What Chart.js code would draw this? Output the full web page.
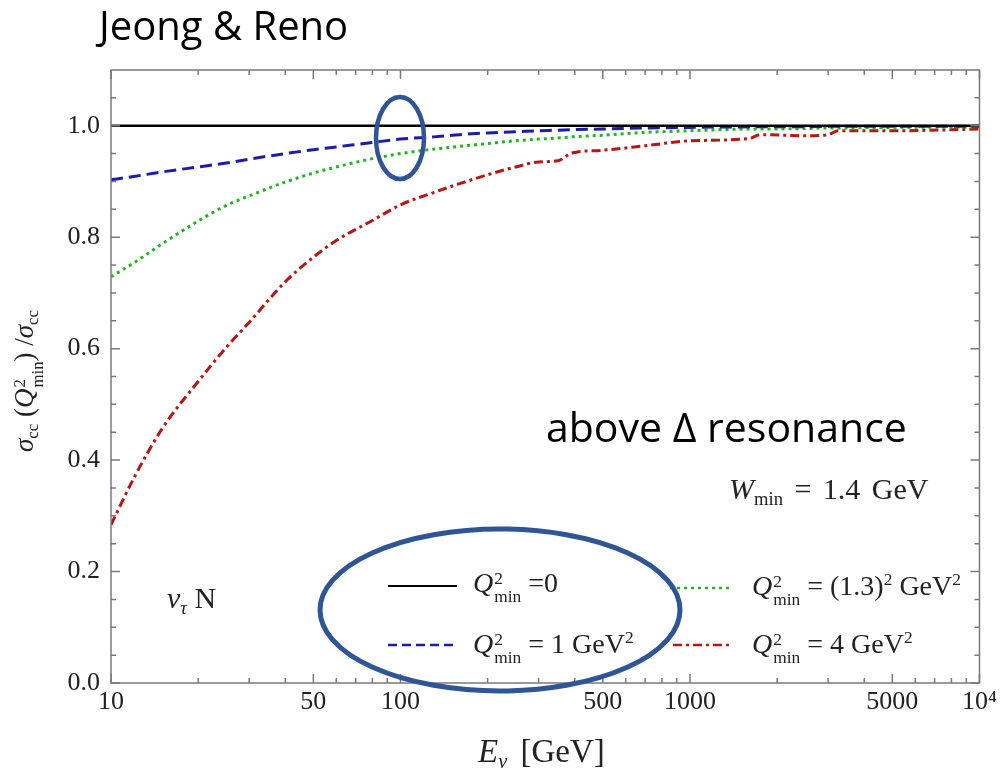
<!DOCTYPE html>
<html>
<head>
<meta charset="utf-8">
<script src="https://cdn.jsdelivr.net/npm/chart.js@4.4.0/dist/chart.umd.min.js"></script>
<style>
  body { margin: 0; background: #fff; }
  #wrap { position: relative; width: 1001px; height: 772px; overflow: hidden; }
  #plot { position: absolute; left: 0; top: 0; }
  #marks { position: absolute; left: 0; top: 0; pointer-events: none; }
  .txt { position: absolute; white-space: nowrap; line-height: 1; color: #222; font-family: "Liberation Serif", serif; }
  /* stacked super/subscript, e.g. Q^2_min */
  .ss { display: inline-flex; flex-direction: column; font-size: 0.62em; line-height: 1.05; position: relative; top: -0.48em; margin-left: 1px; }
  sub { font-size: 0.62em; vertical-align: -0.3em; }
  sup { font-size: 0.62em; }
</style>
</head>
<body>
<div id="wrap">
  <canvas id="plot" width="1001" height="772"></canvas>

  <!-- ellipses + legend samples -->
  <svg id="marks" width="1001" height="772">
    <line x1="388" y1="586" x2="457" y2="586" stroke="#000" stroke-width="2"/>
    <line x1="388" y1="645" x2="457" y2="645" stroke="#1c1caa" stroke-width="2.5" stroke-dasharray="9 5"/>
    <line x1="670" y1="588" x2="733" y2="588" stroke="#22b522" stroke-width="2.5" stroke-dasharray="3 4"/>
    <line x1="673" y1="645" x2="732" y2="645" stroke="#b51616" stroke-width="2.5" stroke-dasharray="9 4 3 4"/>
    <ellipse cx="500" cy="610" rx="180" ry="81" fill="none" stroke="#2f5597" stroke-width="5"/>
    <ellipse cx="400" cy="138" rx="24" ry="41" fill="none" stroke="#2f5597" stroke-width="4.5"/>
  </svg>

  <div class="txt" style="left:99px; top:5px; font-family:'Open Sans'; font-size:40px; color:#000;">Jeong &amp; Reno</div>
  <div class="txt" style="left:546px; top:406px; font-family:'Open Sans'; font-size:41px; color:#000;">above Δ resonance</div>
  <div class="txt" style="left:729px; top:474px; font-size:30px; word-spacing:4px;"><i>W</i><sub>min</sub> = 1.4 GeV</div>
  <div class="txt" style="left:167px; top:583px; font-size:30px;"><i>ν</i><sub><i>τ</i></sub> N</div>

  <div class="txt" style="left:473px; top:569px; font-size:28px;"><i>Q</i><span class="ss"><span>2</span><span>min</span></span> =0</div>
  <div class="txt" style="left:473px; top:629px; font-size:28px;"><i>Q</i><span class="ss"><span>2</span><span>min</span></span> = 1 GeV<sup>2</sup></div>
  <div class="txt" style="left:752px; top:571px; font-size:28px;"><i>Q</i><span class="ss"><span>2</span><span>min</span></span> = (1.3)<sup>2</sup> GeV<sup>2</sup></div>
  <div class="txt" style="left:752px; top:629px; font-size:28px;"><i>Q</i><span class="ss"><span>2</span><span>min</span></span> = 4 GeV<sup>2</sup></div>

  <div class="txt" style="left:478px; top:735px; font-size:33px; word-spacing:5px;"><i>E</i><sub><i>ν</i></sub> [GeV]</div>
  <div class="txt" style="left:33px; top:381px; font-size:27px; transform:translate(-50%,-50%) rotate(-90deg);"><i>σ</i><sub>cc</sub> (<i>Q</i><span class="ss"><span>2</span><span>min</span></span>) /<i>σ</i><sub>cc</sub></div>
</div>

<script>
// neutrino energy grid (GeV)
const energy = [10, 12, 15, 20, 25, 30, 40, 50, 60, 80, 100, 130, 160, 200, 250, 300,
  350, 390, 500, 700, 1000, 1600, 1750, 2500, 3000, 3250, 5000, 10000];

// Q2min = 0 reference line
const q0Energy = [10, 10000];
const q0Ratio = [1.0, 1.0];

// Q2min = 1 GeV^2
const q1Ratio = [0.903, 0.909, 0.917, 0.926, 0.933, 0.940, 0.950, 0.957, 0.962, 0.970, 0.976, 0.980,
  0.984, 0.987, 0.989, 0.991, 0.992, 0.993, 0.994, 0.996, 0.997, 0.998, 0.998, 0.998, 0.999, 0.999, 0.999, 0.999];

// Q2min = (1.3)^2 GeV^2
const q13Ratio = [0.729, 0.754, 0.788, 0.829, 0.857, 0.874, 0.899, 0.915, 0.926, 0.941, 0.950, 0.958,
  0.963, 0.968, 0.973, 0.976, 0.978, 0.980, 0.983, 0.988, 0.991, 0.994, 0.994, 0.995, 0.996, 0.996, 0.997, 0.998];

// Q2min = 4 GeV^2
const q4Ratio = [0.284, 0.368, 0.456, 0.541, 0.602, 0.647, 0.720, 0.764, 0.794, 0.830, 0.858, 0.880,
  0.896, 0.912, 0.926, 0.935, 0.937, 0.951, 0.956, 0.964, 0.973, 0.977, 0.984, 0.982, 0.984, 0.991, 0.991, 0.994];

// axis ticks
const xLabelTicks = [10, 50, 100, 500, 1000, 5000, 10000];
const xMinorTicks = [20, 30, 40, 60, 70, 80, 90, 200, 300, 400, 600, 700, 800, 900,
  2000, 3000, 4000, 6000, 7000, 8000, 9000];
const yLabelTicks = [0, 0.2, 0.4, 0.6, 0.8, 1.0];
const yMinorTicks = [0.05, 0.1, 0.15, 0.25, 0.3, 0.35, 0.45, 0.5, 0.55, 0.65, 0.7, 0.75,
  0.85, 0.9, 0.95, 1.05];

const toPoints = (xs, ys) => xs.map((x, i) => ({ x: x, y: ys[i] }));

// Mathematica-like frame with inward ticks on all four sides
const frameTicks = {
  id: 'frameTicks',
  afterDatasetsDraw(chart) {
    const { ctx, chartArea: a, scales: { x, y } } = chart;
    ctx.save();
    ctx.strokeStyle = '#7a7a7a';
    ctx.lineWidth = 1.5;
    ctx.strokeRect(a.left, a.top, a.right - a.left, a.bottom - a.top);
    ctx.beginPath();
    const xt = (v, len) => {
      const px = x.getPixelForValue(v);
      ctx.moveTo(px, a.bottom); ctx.lineTo(px, a.bottom - len);
      ctx.moveTo(px, a.top); ctx.lineTo(px, a.top + len);
    };
    const yt = (v, len) => {
      const py = y.getPixelForValue(v);
      ctx.moveTo(a.left, py); ctx.lineTo(a.left + len, py);
      ctx.moveTo(a.right, py); ctx.lineTo(a.right - len, py);
    };
    xLabelTicks.forEach(v => xt(v, 9));
    xMinorTicks.forEach(v => xt(v, 5));
    yLabelTicks.forEach(v => yt(v, 9));
    yMinorTicks.forEach(v => yt(v, 5));
    ctx.stroke();
    ctx.restore();
  }
};

const lineStyle = { showLine: true, pointRadius: 0, borderWidth: 3, fill: false, cubicInterpolationMode: 'monotone' };

new Chart(document.getElementById('plot'), {
  type: 'scatter',
  data: {
    datasets: [
      { ...lineStyle, label: 'Q2min = 0', data: toPoints(q0Energy, q0Ratio), borderColor: '#000', borderWidth: 2.5 },
      { ...lineStyle, label: 'Q2min = 1 GeV2', data: toPoints(energy, q1Ratio), borderColor: '#1c1caa', borderDash: [12, 6] },
      { ...lineStyle, label: 'Q2min = (1.3)2 GeV2', data: toPoints(energy, q13Ratio), borderColor: '#22b522', borderDash: [3, 4] },
      { ...lineStyle, label: 'Q2min = 4 GeV2', data: toPoints(energy, q4Ratio), borderColor: '#b51616', borderDash: [9, 4, 3, 4] }
    ]
  },
  options: {
    responsive: false,
    devicePixelRatio: 1,
    animation: false,
    layout: { padding: { top: 70, right: 20, left: 0, bottom: 0 } },
    plugins: { legend: { display: false }, tooltip: { enabled: false } },
    scales: {
      x: {
        type: 'logarithmic',
        min: 10,
        max: 10000,
        grid: { display: false, drawTicks: false },
        border: { display: false },
        afterFit: s => { s.height = 89; },
        afterBuildTicks: s => { s.ticks = xLabelTicks.map(v => ({ value: v })); },
        ticks: {
          padding: 4,
          color: '#222',
          font: { family: 'Liberation Serif', size: 26 },
          callback: v => (v === 10000 ? '10⁴' : String(v))
        }
      },
      y: {
        min: 0,
        max: 1.1,
        grid: { display: false, drawTicks: false },
        border: { display: false },
        afterFit: s => { s.width = 111; },
        afterBuildTicks: s => { s.ticks = yLabelTicks.map(v => ({ value: v })); },
        ticks: {
          padding: 11,
          color: '#222',
          font: { family: 'Liberation Serif', size: 26 },
          callback: v => v.toFixed(1)
        }
      }
    }
  },
  plugins: [frameTicks]
});
</script>
</body>
</html>
